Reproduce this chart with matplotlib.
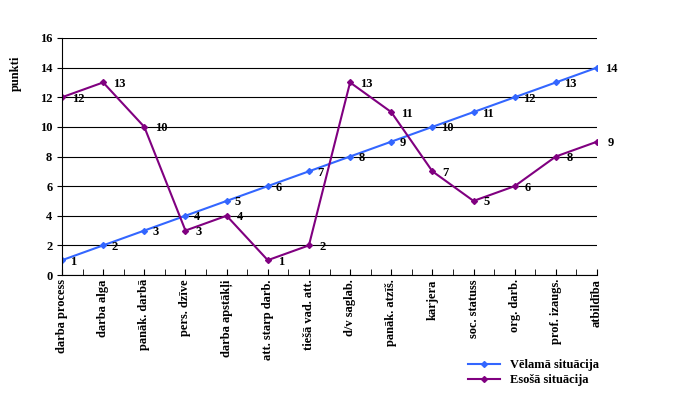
import matplotlib
matplotlib.use("Agg")
import matplotlib.pyplot as plt
import numpy as np

plt.rcParams["font.family"] = "Liberation Serif"
plt.rcParams["font.weight"] = "bold"

categories = ["darba process", "darba alga", "panāk. darbā", "pers. dzīve", "darba apstākļi",
              "att. starp darb.", "tiešā vad. att.", "d/v saglab.", "panāk. atzīš.", "karjera",
              "soc. statuss", "org. darb.", "prof. izaugs.", "atbildība"]
velama = [1, 2, 3, 4, 5, 6, 7, 8, 9, 10, 11, 12, 13, 14]
esosa = [12, 13, 10, 3, 4, 1, 2, 13, 11, 7, 5, 6, 8, 9]

x = np.arange(len(velama))

fig = plt.figure(figsize=(6.93, 4.07), dpi=100)
ax = fig.add_axes([62 / 693, 1 - 275 / 407, 535 / 693, 237 / 407])

ax.plot(x, velama, color="#3366FF", marker="D", markersize=3, linewidth=1.5, label="Vēlamā situācija")
ax.plot(x, esosa, color="#800080", marker="D", markersize=3, linewidth=1.5, label="Esošā situācija")
for xi, v in zip(x, velama):
    ax.text(xi + 0.2, v - 0.1, str(v), fontsize=9, va="center")
for xi, v in zip(x, esosa):
    ax.text(xi + 0.25, v - 0.1, str(v), fontsize=9, va="center")

ax.set_xlim(0, 13)
ax.set_ylim(0, 16)
ax.set_yticks(range(0, 17, 2))
ax.yaxis.grid(True, color="black", linewidth=0.8)
ax.set_axisbelow(True)
ax.set_xticks(x)
ax.set_xticks(x[:-1] + 0.5, minor=True)
ax.set_xticklabels(categories, rotation=90, fontsize=9)
ax.tick_params(axis="x", which="both", length=4, direction="in", pad=3)
ax.tick_params(axis="y", labelsize=9)
for s in ["top", "right"]:
    ax.spines[s].set_visible(False)
ax.set_ylabel("punkti", fontsize=9, fontweight="bold")
ax.yaxis.set_label_coords(-0.075, 0.85)

ax.legend(loc="upper left", bbox_to_anchor=(400 / 535, -0.33), frameon=False, fontsize=9,
          handlelength=2.5, borderpad=0, labelspacing=0.2)

fig.savefig("out.png", dpi=100)
